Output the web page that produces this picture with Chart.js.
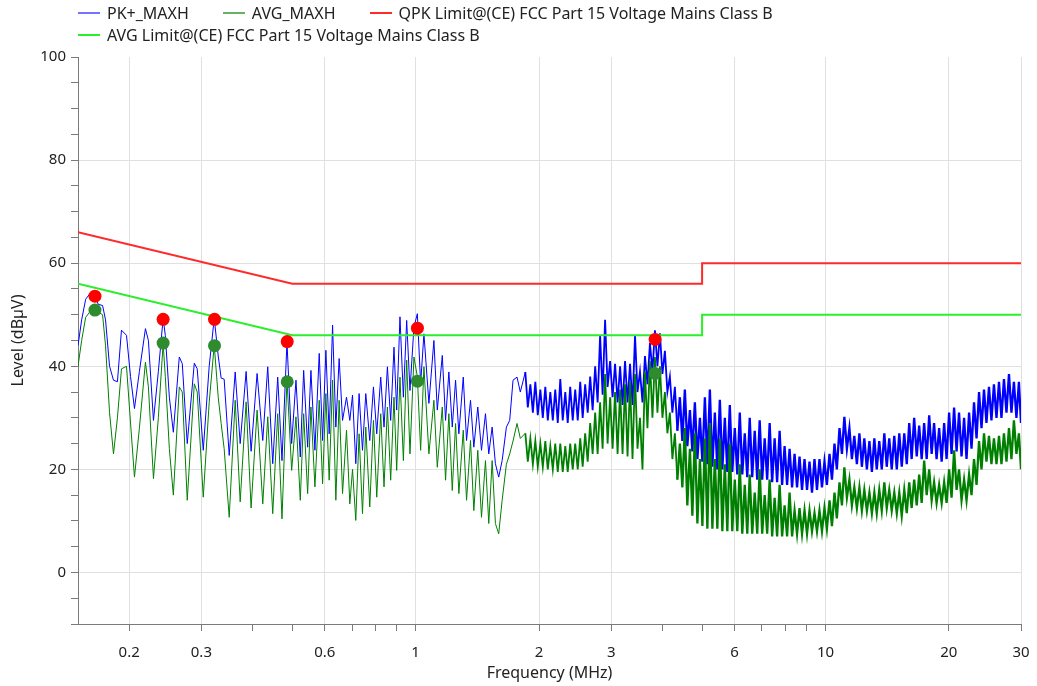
<!DOCTYPE html>
<html>
<head>
<meta charset="utf-8">
<script src="https://cdn.jsdelivr.net/npm/chart.js@4.4.1/dist/chart.umd.min.js"></script>
<style>
  html, body { margin: 0; padding: 0; background: #fff; }
  #wrap { position: relative; width: 1037px; height: 686px; }
  #legend { position: absolute; left: 78px; top: 2px; width: 950px; display: flex; flex-wrap: wrap;
            font: 16px "Noto Sans", sans-serif; color: #222; }
  .item { display: flex; align-items: center; height: 22px; margin-right: 34px; white-space: nowrap; }
  .swatch { display: block; width: 22px; height: 0; margin-right: 7px; }
</style>
</head>
<body>
<div id="wrap">
  <canvas id="emi-chart" width="1037" height="686"></canvas>
  <div id="legend"></div>
</div>
<script>
// sweep points (MHz), shared by both detector traces
var freqMHz = [
  0.150, 0.1531, 0.1566, 0.1601, 0.1646, 0.1682, 0.1722, 0.1751, 0.1791, 0.1831,
  0.1872, 0.1915, 0.1970, 0.2015, 0.2060, 0.2118, 0.2191, 0.2228, 0.2292, 0.2356,
  0.2420, 0.2450, 0.2506, 0.2563, 0.2650, 0.2695, 0.2771, 0.2883, 0.2931, 0.3032,
  0.3135, 0.3225, 0.3298, 0.3353, 0.3410, 0.3508, 0.3628, 0.3731, 0.3858, 0.3967,
  0.4103, 0.4236, 0.4356, 0.4480, 0.4607, 0.4719, 0.4853, 0.4982, 0.5105, 0.5230,
  0.5330, 0.5451, 0.5552, 0.5678, 0.5817, 0.5928, 0.6039, 0.6152, 0.6270, 0.6387,
  0.6506, 0.6631, 0.6781, 0.6908, 0.7014, 0.7144, 0.7278, 0.7418, 0.7556, 0.7728,
  0.7889, 0.8036, 0.8218, 0.8372, 0.8532, 0.8691, 0.8854, 0.8989, 0.9157, 0.9334,
  0.9508, 0.9686, 0.9905, 1.0096, 1.0284, 1.0476, 1.0774, 1.1080, 1.1293, 1.1614,
  1.1831, 1.2052, 1.2285, 1.2514, 1.2748, 1.3067, 1.3310, 1.3611, 1.3866, 1.4178,
  1.4476, 1.4804, 1.5081, 1.5370, 1.5654, 1.5947, 1.6258, 1.6651, 1.6962, 1.7283,
  1.7675, 1.8006,
  1.852, 1.878, 1.905, 1.932, 1.959, 1.986, 2.015, 2.043, 2.072, 2.101,
  2.131, 2.161, 2.191, 2.222, 2.254, 2.285, 2.318, 2.350, 2.383, 2.417,
  2.451, 2.486, 2.521, 2.556, 2.592, 2.629, 2.666, 2.703, 2.742, 2.780,
  2.819, 2.859, 2.899, 2.940, 2.982, 3.024, 3.066, 3.110, 3.154, 3.198,
  3.243, 3.289, 3.335, 3.382, 3.430, 3.478, 3.527, 3.577, 3.627, 3.678,
  3.730, 3.783, 3.836, 3.890, 3.945, 4.001, 4.057, 4.114, 4.172, 4.231,
  4.291, 4.351, 4.413, 4.475, 4.538, 4.602, 4.669, 4.734, 4.801, 4.869,
  4.939, 5.008, 5.079, 5.150, 5.223, 5.297, 5.371, 5.447, 5.524, 5.602,
  5.681, 5.761, 5.842, 5.924, 6.008, 6.093, 6.179, 6.266, 6.354, 6.444,
  6.534, 6.626, 6.720, 6.815, 6.910, 7.008, 7.107, 7.207, 7.308, 7.411,
  7.515, 7.621, 7.729, 7.838, 7.948, 8.060, 8.174, 8.289, 8.406, 8.524,
  8.644, 8.766, 8.890, 9.015, 9.142, 9.271, 9.402, 9.534, 9.669, 9.805,
  9.944, 10.08, 10.23, 10.37, 10.52, 10.66, 10.82, 10.97, 11.12, 11.28,
  11.44, 11.60, 11.76, 11.93, 12.10, 12.27, 12.44, 12.62, 12.80, 12.98,
  13.16, 13.34, 13.53, 13.72, 13.92, 14.11, 14.31, 14.51, 14.72, 14.93,
  15.14, 15.35, 15.57, 15.79, 16.01, 16.23, 16.46, 16.70, 16.93, 17.17,
  17.41, 17.66, 17.91, 18.16, 18.41, 18.67, 18.94, 19.21, 19.48, 19.75,
  20.03, 20.31, 20.60, 20.89, 21.18, 21.48, 21.79, 22.09, 22.41, 22.72,
  23.04, 23.37, 23.70, 24.03, 24.37, 24.71, 25.06, 25.41, 25.77, 26.14,
  26.51, 26.88, 27.26, 27.65, 28.04, 28.43, 28.83, 29.24, 29.65, 30.0
];

// PK+_MAXH level (dBuV)
var pkMaxh = [
  44, 49, 53, 54, 53.5, 52, 51.8, 49, 40, 37.3,
  37, 47, 46, 38, 31.8, 39, 47.3, 45, 29.5, 39,
  49.3, 46, 34, 27.2, 41.8, 40.5, 25, 40.6, 39.5, 23.7,
  40, 49.3, 42, 37.7, 37.5, 22.7, 38.9, 25, 39, 23.5,
  38.6, 25.6, 39.9, 21.1, 37.9, 21.7, 44.7, 25, 37.3, 22.4,
  39.2, 24.3, 39.2, 23.7, 42.5, 25.6, 43.1, 26.9, 48, 28.2,
  41.5, 29.5, 34, 29.5, 34.4, 21.1, 34.7, 23.7, 34.7, 25.6,
  36, 26.9, 37.9, 28.2, 39.9, 29.5, 43.7, 31.5, 49.6, 34,
  48.9, 35.3, 47.6, 50.2, 36.6, 46.3, 32.8, 45, 31.5, 42.1,
  29.5, 38.9, 28.2, 37.3, 26.9, 37.9, 25.6, 33.4, 24.3, 32.1,
  23.7, 30.8, 23, 28.2, 21.1, 18.5, 21.7, 28.2, 29.5, 37.3,
  37.9, 35,
  38.9, 32, 36.5, 31, 37, 30.5, 35.5, 30, 36, 29.5,
  35, 29.5, 35.5, 29, 37.5, 29.5, 35, 29, 36, 29.5,
  35.5, 29.5, 37, 30, 36.5, 31, 38, 31.5, 40, 33,
  46, 34.5, 49, 36, 41, 34, 40.5, 33, 40, 32.5,
  41, 33, 40.5, 32.5, 46, 35, 39, 33, 42, 36.5,
  44.5, 39, 47, 40, 46.4, 38.5, 43, 35, 38, 31,
  36, 27.5, 34, 25.5, 35.5, 24.5, 31.5, 23.5, 33, 22,
  30, 21.5, 34, 21, 35.5, 20.5, 31, 20, 33.5, 20,
  30, 19.5, 32.5, 19.5, 28, 19, 31, 19, 27, 18.5,
  30, 18.5, 27.5, 18, 29.5, 18, 26, 18, 29, 17.5,
  26, 17.5, 27.5, 17, 24.5, 17, 24, 16.5, 23, 16.5,
  22.5, 16, 22, 16, 21.5, 15.5, 22, 16, 22, 16.5,
  21.5, 17, 23, 18, 25, 20, 28, 23, 30.2, 24,
  28, 22, 26.5, 21, 27, 20.5, 26, 20, 25.5, 19.5,
  26, 20, 25.5, 20, 27, 20.5, 26, 20, 26.5, 20,
  27, 20.5, 27, 21, 29, 22, 30, 22.5, 28.5, 22,
  29, 22, 30.5, 23, 29, 22, 28, 21.5, 29, 22,
  31, 23, 32, 23.5, 31, 22.5, 30, 22, 31, 24,
  33, 26, 35, 28, 35.5, 29, 36, 29.5, 36.5, 30,
  37, 30, 37.5, 31, 38.5, 31, 37, 30, 37, 29
];

// AVG_MAXH level (dBuV)
var avgMaxh = [
  40, 45, 49.5, 50.5, 51, 50.5, 50, 44, 31, 23,
  30, 39.5, 40, 29, 18.5, 28, 40.8, 36, 18.2, 30,
  44.4, 38, 24, 15, 36, 35, 14, 36.6, 35, 14.6,
  33, 44.1, 34, 28.9, 24, 10.7, 33.4, 13.7, 33.1, 12.5,
  31.5, 13.3, 30.2, 11.4, 30.8, 10.4, 37.5, 19.8, 30.2, 14,
  30.8, 15.3, 32.1, 16.6, 33.4, 17.2, 34.7, 17.9, 37.3, 14,
  33.4, 15.3, 27.6, 13.3, 20, 10.1, 26.9, 11.4, 28.2, 12.7,
  29.5, 14.6, 30.8, 16.6, 32.1, 17.9, 34, 19.8, 37.9, 21.7,
  41.2, 23, 41.8, 38, 23.7, 39.9, 23, 33.4, 20.4, 32.1,
  17.9, 30.8, 15.9, 28.9, 15.3, 27.6, 14, 25.6, 12, 23.7,
  10.7, 21.7, 9.5, 21.7, 9.5, 7.5, 14, 21, 23, 25.5,
  28.9, 26,
  27, 21.5, 26, 21, 25.5, 20.5, 25, 20.5, 25.5, 20,
  24.5, 20, 25, 19.5, 25, 19.5, 24.5, 19.5, 25, 20,
  25, 20, 26, 20.5, 27, 21.5, 29, 23, 31, 23,
  33, 24, 38.5, 25, 34, 24, 35, 23, 35.5, 23,
  36.5, 22.5, 37, 22, 38.5, 24, 30, 20, 39, 28,
  41, 30, 41.8, 31, 40, 30, 35, 27, 31, 22,
  27, 18, 25, 16.5, 28, 13, 24, 11, 27, 9.5,
  22, 9, 26, 8.5, 29, 8.5, 22, 8.5, 26, 8,
  21, 8, 25, 8, 18, 8, 21, 7.5, 17, 7.5,
  19, 7.5, 15.5, 7.5, 20, 7.5, 15, 7.5, 18, 7,
  14.5, 7, 17, 7, 13, 7, 15.5, 7, 12, 7.5,
  12.5, 7.5, 12, 7.5, 12, 8, 11.5, 8, 12, 8,
  12.5, 8.5, 14, 9, 15.5, 10.5, 17.5, 13, 20.4, 14.5,
  18, 13, 16.5, 12.5, 16.5, 12, 16, 12, 15.5, 11.5,
  15.5, 11.5, 16, 12, 17.5, 12.5, 16, 12, 15.5, 11.5,
  15.5, 11, 16, 11.5, 17.5, 12.5, 18, 13, 19, 13.5,
  21.7, 15, 20, 14, 17.5, 13.5, 17, 13.5, 17.5, 13.5,
  20, 14.5, 23.7, 16, 20, 14, 18, 14, 19, 15,
  22, 17, 25.5, 20, 27, 21.5, 26.5, 21, 26, 21,
  26.5, 21, 27, 21.5, 28, 22, 29.5, 23, 27, 20
];

// FCC Part 15 class B limit lines
var limitFreq = [0.15, 0.5, 5, 5, 30];
var qpkLimit = [66, 56, 56, 60, 60];
var avgLimit = [56, 46, 46, 50, 50];

// final measurement markers
var markerFreq = [0.165, 0.242, 0.323, 0.486, 1.01, 3.84];
var markerQpk = [53.6, 49.1, 49.1, 44.8, 47.4, 45.2];
var markerAvg = [50.9, 44.5, 44.0, 37.0, 37.1, 38.6];

// axis ticks
var xTickValues = [0.2, 0.3, 0.4, 0.5, 0.6, 0.7, 0.8, 0.9, 1, 2, 3, 4, 5, 6, 7, 8, 9, 10, 20, 30];
var xTickLabels = [0.2, 0.3, 0.6, 1, 2, 3, 6, 10, 20, 30];
var yMajorStep = 20;

function pairs(xs, ys) {
  return xs.map(function (x, i) { return { x: x, y: ys[i] }; });
}

// the dense sweep above ~1.85 MHz is drawn heavier so it reads as a band
function traceWidth(c) {
  var f = c.p0.parsed.x;
  if (f >= 4.3) return 2.3;
  if (f >= 1.84) return 1.8;
  return 1;
}

var FONT = '"Noto Sans", sans-serif';
Chart.defaults.font.family = FONT;
Chart.defaults.font.size = 15;
Chart.defaults.color = '#222';

var datasets = [
  { type: 'scatter', label: 'QPK', data: pairs(markerFreq, markerQpk), backgroundColor: '#ff0000', borderWidth: 0, pointRadius: 6.5, order: 1, inLegend: false },
  { type: 'scatter', label: 'AVG', data: pairs(markerFreq, markerAvg), backgroundColor: '#2e8b2e', borderWidth: 0, pointRadius: 6.5, order: 2, inLegend: false },
  { label: 'PK+_MAXH', data: pairs(freqMHz, pkMaxh), borderColor: '#0000ff', borderWidth: 1, order: 6, segment: { borderWidth: traceWidth }, swatch: 2, swatchAlpha: 0.55 },
  { label: 'AVG_MAXH', data: pairs(freqMHz, avgMaxh), borderColor: '#008000', borderWidth: 1, order: 5, segment: { borderWidth: traceWidth }, swatch: 2, swatchAlpha: 0.6 },
  { label: 'QPK Limit@(CE) FCC Part 15 Voltage Mains Class B', data: pairs(limitFreq, qpkLimit), borderColor: '#ff2a2a', borderWidth: 2, order: 4, swatch: 2, swatchAlpha: 1 },
  { label: 'AVG Limit@(CE) FCC Part 15 Voltage Mains Class B', data: pairs(limitFreq, avgLimit), borderColor: '#2bef2b', borderWidth: 2, order: 3, swatch: 2, swatchAlpha: 1 }
];

// legend rows above the plot, built from the same datasets
var legend = document.getElementById('legend');
datasets.forEach(function (ds) {
  if (ds.inLegend === false) return;
  var item = document.createElement('span');
  item.className = 'item';
  var sw = document.createElement('span');
  sw.className = 'swatch';
  sw.style.borderTop = ds.swatch + 'px solid ' + ds.borderColor;
  sw.style.opacity = ds.swatchAlpha;
  item.appendChild(sw);
  item.appendChild(document.createTextNode(ds.label));
  legend.appendChild(item);
});

var ctx = document.getElementById('emi-chart').getContext('2d');
new Chart(ctx, {
  type: 'line',
  data: { datasets: datasets },
  options: {
    responsive: false,
    animation: false,
    events: [],
    layout: { padding: { top: 57, right: 16, left: 0, bottom: 0 } },
    elements: { point: { radius: 0 }, line: { tension: 0 } },
    plugins: { legend: { display: false }, tooltip: { enabled: false } },
    scales: {
      x: {
        type: 'logarithmic',
        min: 0.15,
        max: 30,
        afterBuildTicks: function (scale) {
          scale.ticks = xTickValues.map(function (v) { return { value: v }; });
        },
        afterFit: function (scale) {
          scale.height = 62;
          // keep the plot's right edge fixed regardless of the last label's overhang
          scale.paddingRight = 10;
          scale.paddingLeft = 0;
        },
        ticks: {
          autoSkip: false,
          maxRotation: 0,
          padding: 13,
          color: '#222',
          callback: function (v) { return xTickLabels.indexOf(v) >= 0 ? String(v) : ''; }
        },
        grid: {
          tickLength: 7,
          tickColor: '#7a7a7a',
          color: function (c) { return c.tick && xTickLabels.indexOf(c.tick.value) >= 0 ? '#e0e0e0' : 'rgba(0,0,0,0)'; }
        },
        border: { color: '#7a7a7a', width: 1 },
        title: { display: true, text: 'Frequency (MHz)', color: '#222', font: { size: 16 }, padding: { top: 0, bottom: 3 } }
      },
      y: {
        min: -10,
        max: 100,
        afterFit: function (scale) { scale.width = 78; },
        ticks: {
          stepSize: 5,
          padding: 5,
          color: '#222',
          callback: function (v) { return v % yMajorStep === 0 ? v : ''; }
        },
        grid: {
          tickLength: 7,
          tickColor: '#7a7a7a',
          color: function (c) {
            var v = c.tick && c.tick.value;
            return (v % yMajorStep === 0 && v < 100) ? '#e0e0e0' : 'rgba(0,0,0,0)';
          }
        },
        border: { color: '#7a7a7a', width: 1 },
        title: { display: true, text: 'Level (dBµV)', color: '#222', font: { size: 16 }, padding: { top: 9, bottom: 0 } }
      }
    }
  }
});
</script>
</body>
</html>
